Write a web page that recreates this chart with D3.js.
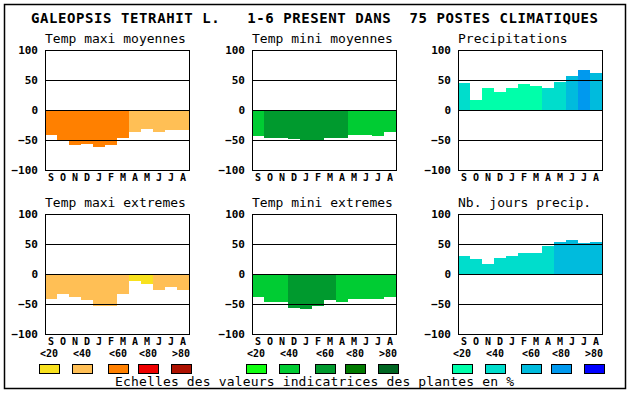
<!DOCTYPE html>
<html>
<head>
<meta charset="utf-8">
<script src="https://cdn.jsdelivr.net/npm/d3@7"></script>
<style>
    body { margin: 0; background: #fff; }
    svg { display: block; }
    text { font-family: "DejaVu Sans Mono", "Liberation Mono", monospace; }
</style>
</head>
<body>
<script>
"use strict";
(function () {

    // Month labels (Sept -> Aug) and scales text
    const months = ["S", "O", "N", "D", "J", "F", "M", "A", "M", "J", "J", "A"]
    const yTicks = [100, 50, 0, -50, -100]
    const gridValues = [50, 0, -50]
    const classLabels = ["<20", "<40", "<60", "<80", ">80"]

    // Palettes (one colour per class)
    const oranges = ["#f8e11e", "#ffbf55", "#ff8000", "#ee0000", "#ad1100"]
    const greens = ["#11ff11", "#00cc33", "#009a2e", "#007a00", "#006622"]
    const blues = ["#00ffaa", "#00ddcc", "#00bbdd", "#0099ee", "#0000ff"]

    // Values
    const tmaxMoy = [-42, -52, -58, -56, -62, -58, -47, -37, -31, -36, -34, -34]
    const tmaxMoyClass = [2, 2, 2, 2, 2, 2, 2, 1, 1, 1, 1, 1]

    const tminMoy = [-43, -47, -47, -49, -52, -52, -47, -46, -41, -41, -43, -37]
    const tminMoyClass = [1, 2, 2, 2, 2, 2, 2, 2, 1, 1, 1, 1]

    const precip = [45, 17, 37, 30, 37, 44, 40, 37, 47, 57, 66, 62]
    const precipClass = [1, 0, 0, 0, 0, 0, 0, 1, 1, 2, 3, 2]

    const tmaxExt = [-41, -33, -38, -43, -53, -53, -34, -11, -16, -26, -21, -26]
    const tmaxExtClass = [1, 1, 1, 1, 1, 1, 1, 0, 0, 1, 1, 1]

    const tminExt = [-38, -46, -46, -56, -58, -53, -44, -46, -41, -41, -41, -38]
    const tminExtClass = [1, 1, 1, 2, 2, 2, 2, 1, 1, 1, 1, 1]

    const nbJours = [30, 25, 17, 27, 30, 35, 35, 47, 54, 57, 52, 54]
    const nbJoursClass = [1, 1, 1, 1, 1, 1, 1, 1, 2, 2, 2, 2]

    const measurements = {
        width: 630,
        height: 394,
        plotWidth: 144,
        plotHeight: 120,
        cols: [45, 252, 458],
        rows: [50, 214]
    }

    const panels = [
        { title: "Temp maxi moyennes", values: tmaxMoy, classes: tmaxMoyClass, palette: oranges, col: 0, row: 0 },
        { title: "Temp mini moyennes", values: tminMoy, classes: tminMoyClass, palette: greens, col: 1, row: 0 },
        { title: "Precipitations", values: precip, classes: precipClass, palette: blues, col: 2, row: 0 },
        { title: "Temp maxi extremes", values: tmaxExt, classes: tmaxExtClass, palette: oranges, col: 0, row: 1 },
        { title: "Temp mini extremes", values: tminExt, classes: tminExtClass, palette: greens, col: 1, row: 1 },
        { title: "Nb. jours precip.", values: nbJours, classes: nbJoursClass, palette: blues, col: 2, row: 1 }
    ]

    const svg = d3.select("body").append("svg")
        .attr("width", measurements.width)
        .attr("height", measurements.height)

    // Outer frame
    svg.append("rect")
        .attr("x", 4.5)
        .attr("y", 4.5)
        .attr("width", 621)
        .attr("height", 384)
        .attr("fill", "none")
        .attr("stroke", "#000")
        .attr("stroke-width", 1.5)

    // Main title
    svg.append("text")
        .attr("x", 31)
        .attr("y", 23)
        .attr("textLength", 567)
        .attr("lengthAdjust", "spacing")
        .style("white-space", "pre")
        .style("font-size", "14px")
        .style("font-weight", "bold")
        .text("GALEOPSIS TETRAHIT L.   1-6 PRESENT DANS  75 POSTES CLIMATIQUES")

    const scaleX = d3.scaleBand()
        .domain(d3.range(months.length))
        .range([0, measurements.plotWidth])

    const scaleY = d3.scaleLinear()
        .domain([-100, 100])
        .range([measurements.plotHeight, 0])

    panels.forEach(drawPanel)

    // Legends under the bottom row
    drawLegend(oranges, measurements.cols[0])
    drawLegend(greens, measurements.cols[1])
    drawLegend(blues, measurements.cols[2])

    // Footer
    svg.append("text")
        .attr("x", 115)
        .attr("y", 386)
        .attr("textLength", 399)
        .attr("lengthAdjust", "spacing")
        .style("font-size", "13px")
        .text("Echelles des valeurs indicatrices des plantes en %")


    // Draw one small bar panel
    function drawPanel(p) {
        const g = svg.append("g")
            .attr("transform", "translate(" + measurements.cols[p.col] + "," + measurements.rows[p.row] + ")")

        g.append("text")
            .attr("x", 0)
            .attr("y", -7)
            .style("font-size", "13px")
            .text(p.title)

        // Bars
        g.selectAll(".bar")
            .data(p.values)
            .enter()
            .append("rect")
            .attr("class", "bar")
            .attr("x", (d, i) => scaleX(i))
            .attr("width", scaleX.bandwidth())
            .attr("y", (d) => scaleY(Math.max(0, d)))
            .attr("height", (d) => Math.abs(scaleY(d) - scaleY(0)))
            .attr("fill", (d, i) => p.palette[p.classes[i]])
            .attr("shape-rendering", "crispEdges")

        // Grid lines on top of bars
        g.selectAll(".grid")
            .data(gridValues)
            .enter()
            .append("line")
            .attr("x1", 0)
            .attr("x2", measurements.plotWidth)
            .attr("y1", (d) => scaleY(d) + 0.5)
            .attr("y2", (d) => scaleY(d) + 0.5)
            .attr("stroke", "#000")
            .attr("shape-rendering", "crispEdges")

        g.append("rect")
            .attr("x", 0.5)
            .attr("y", 0.5)
            .attr("width", measurements.plotWidth)
            .attr("height", measurements.plotHeight)
            .attr("fill", "none")
            .attr("stroke", "#000")
            .attr("shape-rendering", "crispEdges")

        // Y axis labels
        const yAxis = d3.axisLeft(scaleY)
            .tickValues(yTicks)
            .tickSize(0)
            .tickPadding(7)
        g.append("g")
            .call(yAxis)
            .call((a) => a.select(".domain").remove())
            .selectAll("text")
            .attr("fill", "#000")
            .style("font-family", "'DejaVu Sans Mono', monospace")
            .style("font-size", "11px")
            .style("font-weight", "bold")

        // Month labels
        const xAxis = d3.axisBottom(scaleX)
            .tickSize(0)
            .tickPadding(3)
            .tickFormat((i) => months[i])
        g.append("g")
            .attr("transform", "translate(0," + measurements.plotHeight + ")")
            .call(xAxis)
            .call((a) => a.select(".domain").remove())
            .selectAll("text")
            .attr("fill", "#000")
            .attr("dy", null)
            .attr("y", 10.5)
            .style("font-family", "'DejaVu Sans Mono', monospace")
            .style("font-size", "10px")
            .style("font-weight", "bold")
    }


    // Colour class legend
    function drawLegend(palette, x0) {
        const legendX = d3.scaleLinear()
            .domain([0, classLabels.length - 1])
            .range([x0 + 4, x0 + 136])

        const g = svg.append("g")

        g.selectAll(".leg-label")
            .data(classLabels)
            .enter()
            .append("text")
            .attr("x", (d, i) => legendX(i) + (i === 2 ? 3 : 0))
            .attr("y", 357)
            .attr("text-anchor", "middle")
            .style("font-size", "10px")
            .style("font-weight", "bold")
            .text((d) => d)

        g.selectAll(".leg-box")
            .data(palette)
            .enter()
            .append("rect")
            .attr("x", (d, i) => Math.round(legendX(i) - 10 + (i === 2 ? 3 : 0)) + 0.5)
            .attr("y", 364.5)
            .attr("width", 20)
            .attr("height", 9)
            .attr("fill", (d) => d)
            .attr("stroke", "#000")
            .attr("shape-rendering", "crispEdges")
    }

})()
</script>
</body>
</html>
